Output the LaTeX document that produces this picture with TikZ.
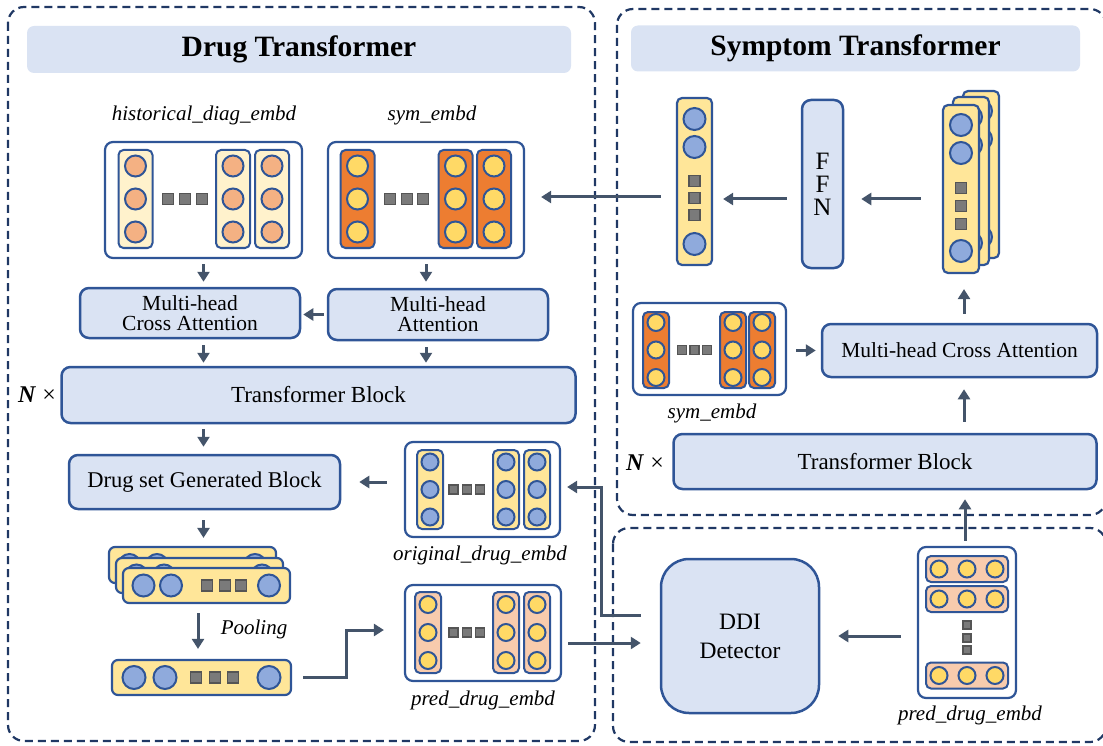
\documentclass[tikz,border=0pt]{standalone}
\usepackage{fontspec}
\setmainfont{Liberation Serif}
\usetikzlibrary{arrows.meta,calc}
\definecolor{boxc}{HTML}{2F5597}
\definecolor{boxf}{HTML}{DAE3F3}
\definecolor{arrc}{HTML}{44546A}
\definecolor{dashc}{HTML}{203864}
\definecolor{ylw}{HTML}{FFE699}
\definecolor{pale}{HTML}{FFF2CC}
\definecolor{orng}{HTML}{ED7D31}
\definecolor{salm}{HTML}{F4B183}
\definecolor{peach}{HTML}{F8CBAD}
\definecolor{bcirc}{HTML}{8FAADC}
\definecolor{ycirc}{HTML}{FFD966}
\definecolor{sqf}{HTML}{7A7A7A}
\definecolor{sqd}{HTML}{555555}
\newcommand\myfs[2]{\fontsize{#1}{#2}\selectfont}
% column: cx, cy, w, h, r, dy, colfill, circfill
\newcommand\vcolumn[8]{%
  \draw[colline, fill=#7, rounded corners=5pt] ({#1-#3/2},{#2-#4/2}) rectangle ({#1+#3/2},{#2+#4/2});
  \foreach \k in {-1,0,1} {\draw[colline, fill=#8] (#1,{#2+\k*#6}) circle (#5pt);}
}
% square: cx, cy, size
\newcommand\sqbox[3]{\draw[sqst] ({#1-#3/2},{#2-#3/2}) rectangle ({#1+#3/2},{#2+#3/2});}
% circle: cx, cy, r, fill
\newcommand\circl[4]{\draw[colline, fill=#4] (#1,#2) circle (#3pt);}
\tikzset{
  region/.style={draw=dashc, line width=2.2pt, dash pattern=on 8pt off 5pt, rounded corners=16pt},
  titlebox/.style={fill=boxf, rounded corners=7pt, inner sep=0pt, font=\myfs{29.5}{30}\bfseries},
  blk/.style={draw=boxc, fill=boxf, line width=2.5pt, rounded corners=9pt, inner sep=0pt, align=center},
  emb/.style={draw=boxc, fill=white, line width=2.2pt, rounded corners=8pt, inner sep=0pt},
  barst/.style={draw=boxc, fill=ylw, line width=2.2pt, rounded corners=6pt, inner sep=0pt},
  lbl/.style={font=\myfs{21}{22}\itshape, inner sep=0pt},
  colline/.style={draw=boxc, line width=2pt},
  sqst/.style={draw=sqd, fill=sqf, line width=1.4pt},
  arr/.style={draw=arrc, line width=3pt, -{Triangle[length=10pt,width=12pt]}},
}
\begin{document}
\begin{tikzpicture}[x=1pt,y=-1pt]
\useasboundingbox (0,0) rectangle (1103,746);
\clip (0,0) rectangle (1103,746);
% regions
\draw[region] (8,7) rectangle (595,741);
\draw[region] (617,9) rectangle (1106,515);
\draw[region] (613,528) rectangle (1106,742);
% titles
\node[titlebox, minimum width=544pt, minimum height=47pt] (t1) at (299,49.5) {Drug Transformer};
\node[titlebox, minimum width=449pt, minimum height=46pt] (t2) at (855.5,48.5) {Symptom Transformer};

% ---------- Drug transformer ----------
\node[lbl] (histl) at (204,115) {historical\_diag\_embd};
\node[lbl] (syml) at (432,115) {sym\_embd};
\node[emb, minimum width=197pt, minimum height=116pt] (hist) at (203.5,200) {};
\vcolumn{135.5}{199}{34}{98}{10.5}{33}{pale}{salm}
\vcolumn{233}{199}{34}{98}{10.5}{33}{pale}{salm}
\vcolumn{272}{199}{34}{98}{10.5}{33}{pale}{salm}
\sqbox{168}{199}{11}\sqbox{185}{199}{11}\sqbox{202}{199}{11}
\node[emb, minimum width=196pt, minimum height=116pt] (sym) at (426,200) {};
\vcolumn{357.5}{199}{34}{98}{10.5}{33}{orng}{ycirc}
\vcolumn{455.5}{199}{34}{98}{10.5}{33}{orng}{ycirc}
\vcolumn{494}{199}{34}{98}{10.5}{33}{orng}{ycirc}
\sqbox{390}{199}{11}\sqbox{407}{199}{11}\sqbox{423}{199}{11}

\node[blk, minimum width=220pt, minimum height=50pt, font=\myfs{21.5}{20}] (mhca) at (190,313) {Multi-head\\Cross Attention};
\node[blk, minimum width=220pt, minimum height=51pt, font=\myfs{21.5}{20}] (mha) at (438,314.5) {Multi-head\\Attention};
\node[blk, minimum width=514pt, minimum height=56pt, font=\myfs{23}{24}] (tb) at (318.5,395) {Transformer Block};
\node[font=\myfs{24}{24}, inner sep=0pt] (n1) at (37,395) {\textbf{\textit{N}} ×};
\node[blk, minimum width=271pt, minimum height=54pt, font=\myfs{22.5}{23}] (dsgb) at (204.5,482) {Drug set Generated Block};

\node[emb, minimum width=155pt, minimum height=95pt] (orig) at (482.5,489.5) {};
\vcolumn{430}{489.5}{26}{79}{8.5}{27.5}{ylw}{bcirc}
\vcolumn{506}{489.5}{26}{79}{8.5}{27.5}{ylw}{bcirc}
\vcolumn{537}{489.5}{26}{79}{8.5}{27.5}{ylw}{bcirc}
\sqbox{453.5}{489.5}{9}\sqbox{467}{489.5}{9}\sqbox{480}{489.5}{9}
\node[lbl] (origl) at (480,555) {original\_drug\_embd};

% stacked drug set
\node[barst, minimum width=167pt, minimum height=36pt] (bar1) at (192.5,565) {};
\circl{129.5}{565}{11}{bcirc}\circl{157}{565}{11}{bcirc}\circl{255}{565}{11}{bcirc}
\node[barst, minimum width=167pt, minimum height=35pt] (bar2) at (199.5,575.5) {};
\circl{136.5}{575.5}{11}{bcirc}\circl{164}{575.5}{11}{bcirc}\circl{262}{575.5}{11}{bcirc}
\node[barst, minimum width=167pt, minimum height=35pt] (bar3) at (206.5,585.5) {};
\circl{143.5}{585.5}{11}{bcirc}\circl{171}{585.5}{11}{bcirc}\circl{269}{585.5}{11}{bcirc}
\sqbox{207}{585.5}{11}\sqbox{225}{585.5}{11}\sqbox{241}{585.5}{11}
\node[lbl] (pool) at (254,629) {Pooling};
\node[barst, minimum width=179pt, minimum height=35pt] (pooled) at (201.5,677.5) {};
\circl{134}{677.5}{11.5}{bcirc}\circl{165}{677.5}{11.5}{bcirc}\circl{269}{677.5}{11.5}{bcirc}
\sqbox{196}{677.5}{11}\sqbox{215}{677.5}{11}\sqbox{233}{677.5}{11}

\node[emb, minimum width=156pt, minimum height=96pt] (pred) at (483,633) {};
\vcolumn{428}{632.5}{26}{81}{8.5}{28}{peach}{ycirc}
\vcolumn{506}{632.5}{26}{81}{8.5}{28}{peach}{ycirc}
\vcolumn{537}{632.5}{26}{81}{8.5}{28}{peach}{ycirc}
\sqbox{453.5}{632.5}{9}\sqbox{467}{632.5}{9}\sqbox{480}{632.5}{9}
\node[lbl] (predl) at (483,700) {pred\_drug\_embd};

% ---------- Symptom transformer ----------
\node[draw=boxc, fill=ylw, line width=2.2pt, rounded corners=5pt, minimum width=35pt, minimum height=167pt, inner sep=0pt] (rcol) at (694.5,181.5) {};
\circl{694.5}{119}{11}{bcirc}\circl{694.5}{147}{11}{bcirc}\circl{694.5}{244}{11}{bcirc}
\sqbox{694.5}{181}{11}\sqbox{694.5}{198}{11}\sqbox{694.5}{215}{11}
\node[blk, minimum width=41pt, minimum height=168pt, font=\myfs{25}{23}] (ffn) at (822.5,184) {F\\F\\N};
% stacked columns
\draw[colline, line width=2.2pt, fill=ylw, rounded corners=5pt] (963,91) rectangle (999,258);
\circl{981}{111}{11}{bcirc}\circl{981}{139}{11}{bcirc}\circl{981}{237}{11}{bcirc}
\draw[colline, line width=2.2pt, fill=ylw, rounded corners=5pt] (953,97) rectangle (989,265);
\circl{971}{117}{11}{bcirc}\circl{971}{145}{11}{bcirc}\circl{971}{243}{11}{bcirc}
\node[draw=boxc, fill=ylw, line width=2.2pt, rounded corners=5pt, minimum width=36pt, minimum height=168pt, inner sep=0pt] (sfront) at (961,189) {};
\circl{961}{125}{11}{bcirc}\circl{961}{153}{11}{bcirc}\circl{961}{251}{11}{bcirc}
\sqbox{961}{188}{11}\sqbox{961}{206}{11}\sqbox{961}{224}{11}

\node[emb, minimum width=153pt, minimum height=92pt] (symS) at (709.5,349) {};
\vcolumn{656}{350}{26}{76}{8.5}{27.5}{orng}{ycirc}
\vcolumn{733}{350}{26}{76}{8.5}{27.5}{orng}{ycirc}
\vcolumn{762}{350}{26}{76}{8.5}{27.5}{orng}{ycirc}
\sqbox{682}{350}{9}\sqbox{694.5}{350}{9}\sqbox{707}{350}{9}
\node[lbl] (symSl) at (712,413) {sym\_embd};
\node[blk, minimum width=275pt, minimum height=53pt, font=\myfs{21.5}{22}] (mhcaR) at (959.5,350.5) {Multi-head Cross Attention};
\node[blk, minimum width=423pt, minimum height=55pt, font=\myfs{23}{24}] (tbR) at (885,461.5) {Transformer Block};
\node[font=\myfs{24}{24}, inner sep=0pt] (n2) at (645,463) {\textbf{\textit{N}} ×};

% ---------- DDI ----------
\node[blk, rounded corners=28pt, minimum width=158pt, minimum height=154pt, font=\myfs{23.5}{29}] (ddi) at (740,636) {DDI\\Detector};
\node[emb, minimum width=98pt, minimum height=151pt] (predR) at (967,622.5) {};
\foreach \yy in {569,599,675.5} {
  \draw[colline, fill=peach, rounded corners=5pt] (926,{\yy-13}) rectangle (1008,{\yy+13});
  \circl{939}{\yy}{8.5}{ycirc}\circl{967}{\yy}{8.5}{ycirc}\circl{995}{\yy}{8.5}{ycirc}
}
\sqbox{967}{625}{8}\sqbox{967}{638}{8}\sqbox{967}{650}{8}
\node[lbl] (predRl) at (970,715) {pred\_drug\_embd};

% ---------- arrows ----------
\draw[arr, shorten <=5pt, shorten >=5pt] (hist.south) -- (hist.south |- mhca.north);
\draw[arr, shorten <=5pt, shorten >=6pt] (sym.south) -- (sym.south |- mha.north);
\draw[arr, shorten <=3pt, shorten >=2pt] (mha.west) -- (mha.west -| mhca.east);
\draw[arr, shorten <=6pt, shorten >=3pt] (hist.south |- mhca.south) -- (hist.south |- tb.north);
\draw[arr, shorten <=6pt, shorten >=3pt] (sym.south |- mha.south) -- (sym.south |- tb.north);
\draw[arr, shorten <=5pt, shorten >=7pt] (hist.south |- tb.south) -- (hist.south |- dsgb.north);
\draw[arr, shorten <=17pt, shorten >=18pt] (dsgb.east -| orig.west) -- (dsgb.east);
\draw[arr, shorten <=10pt, shorten >=8pt] (hist.south |- dsgb.south) -- (hist.south |- bar1.north);
\draw[arr, shorten <=9pt, shorten >=10pt] ([xshift=-3.5pt]pooled.north |- bar3.south) -- ([xshift=-3.5pt]pooled.north);
\draw[arr, shorten <=11pt, shorten >=20pt] (pooled.east) -- ++(54,0) |- ([yshift=3pt]pred.west);
\draw[arr, shorten <=19pt, shorten >=6pt] ([yshift=21pt]ddi.west) -- ++(-58,0) |- ([yshift=2.5pt]orig.east);
\draw[arr, shorten <=6pt, shorten >=19pt] ([yshift=-10pt]pred.east) -- ([yshift=-10pt]pred.east -| ddi.west);
\draw[arr, shorten <=16pt, shorten >=18pt] (predR.west |- ddi.east) -- (ddi.east);
\draw[arr, shorten <=5pt, shorten >=9pt] ([xshift=-2pt]predR.north) -- ([xshift=-2pt]predR.north |- tbR.south);
\draw[arr, shorten <=11pt, shorten >=11pt] ([xshift=3pt]sfront.south |- tbR.north) -- ([xshift=3pt]sfront.south |- mhcaR.south);
\draw[arr, shorten <=9pt, shorten >=15pt] ([xshift=3pt]sfront.south |- mhcaR.north) -- ([xshift=3pt]sfront.south);
\draw[arr, shorten <=9pt, shorten >=5pt] (symS.east |- mhcaR.west) -- (mhcaR.west);
\draw[arr, shorten <=21pt, shorten >=17pt] ([yshift=-15pt]ffn.east -| sfront.west) -- ([yshift=-15pt]ffn.east);
\draw[arr, shorten <=14pt, shorten >=10pt] ([yshift=-15pt]ffn.west) -- ([yshift=-15pt]ffn.west -| rcol.east);
\draw[arr, shorten <=15pt, shorten >=16pt] ([yshift=-15.5pt]rcol.west) -- ([yshift=-15.5pt]rcol.west -| sym.east);
\end{tikzpicture}
\end{document}
